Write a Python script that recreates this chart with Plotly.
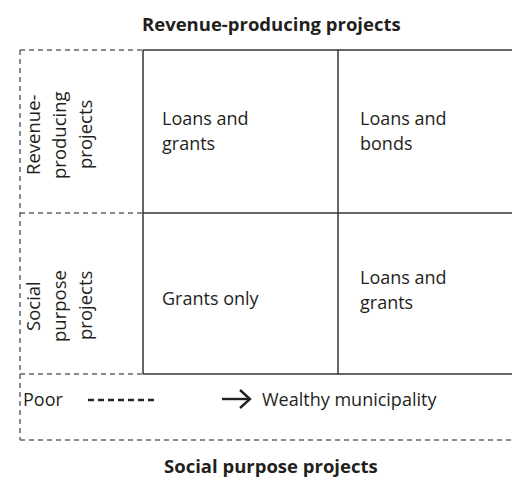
import plotly.graph_objects as go

# ---- structure of the diagram (pixel-like data units) ----
col_edges = [20, 143, 338, 512]      # left dashed edge, solid grid lines, right edge
row_edges = [50, 213, 374, 440]      # top, middle, bottom of grid, bottom dashed edge

title_top = "Revenue-producing projects"
title_bottom = "Social purpose projects"

row_label_lines = [["Revenue-", "producing", "projects"],
                   ["Social", "purpose", "projects"]]
row_label_cy = [135, 306]
row_label_cx = [32, 58, 84]

cell_lines = [["Loans and", "grants"], ["Loans and", "bonds"],
              ["Grants only"], ["Loans and", "grants"]]
cell_x = [161, 359, 161, 359]
cell_y = [118, 118, 298, 277]
line_gap = 25

poor_label = "Poor"
wealthy_label = "Wealthy municipality"
axis_y = 399
poor_x = 22
dash_x = [88, 157]
arrow_x = [222, 250]
wealthy_x = 261

FONT = "Open Sans"
TXT = "#231f20"
SOLID = "#333333"
DASH = "#666666"
BODY = 18
SIDE = 18.5
HEAD = 18.5

fig = go.Figure()

def seg(x, y, color, dash=None, width=1.5):
    fig.add_trace(go.Scatter(x=x, y=y, mode="lines", hoverinfo="skip",
                             line=dict(color=color, width=width, dash=dash),
                             showlegend=False))

L, C1, C2, R = col_edges
T, M, B, BB = row_edges
# dashed outline on the left and bottom
for yy in (T, M, B):
    seg([L, C1], [yy, yy], DASH, "5px,4px")
seg([L, L], [T, BB], DASH, "5px,4px")
seg([L, R], [BB, BB], DASH, "5px,4px")
# solid grid
for yy in (T, M, B):
    seg([C1, R], [yy, yy], SOLID)
for xx in (C1, C2):
    seg([xx, xx], [T, B], SOLID)

# poor -> wealthy scale
seg(dash_x, [axis_y + 1, axis_y + 1], "#222222", "6px,4px", 2.5)
seg(arrow_x, [axis_y, axis_y], "#222222", None, 2.4)
seg([arrow_x[1] - 10, arrow_x[1], arrow_x[1] - 10],
    [axis_y - 9, axis_y, axis_y + 9], "#222222", None, 2.4)

ann = []
ann.append(dict(x=271, y=23, text="<b>" + title_top + "</b>", xanchor="center",
                yanchor="middle", font=dict(size=HEAD, family=FONT, color=TXT)))
ann.append(dict(x=271, y=465, text="<b>" + title_bottom + "</b>", xanchor="center",
                yanchor="middle", font=dict(size=HEAD, family=FONT, color=TXT)))
for lines, cy in zip(row_label_lines, row_label_cy):
    for line, cx in zip(lines, row_label_cx):
        ann.append(dict(x=cx, y=cy, text=line, textangle=-90, xanchor="center",
                        yanchor="middle", font=dict(size=SIDE, family=FONT, color=TXT)))
for lines, x0, y0 in zip(cell_lines, cell_x, cell_y):
    for i, line in enumerate(lines):
        ann.append(dict(x=x0, y=y0 + i * line_gap, text=line, xanchor="left",
                        yanchor="middle", font=dict(size=BODY, family=FONT, color=TXT)))
ann.append(dict(x=poor_x, y=axis_y, text=poor_label, xanchor="left", yanchor="middle",
                font=dict(size=BODY, family=FONT, color=TXT)))
ann.append(dict(x=wealthy_x, y=axis_y, text=wealthy_label, xanchor="left", yanchor="middle",
                font=dict(size=BODY, family=FONT, color=TXT)))
for a in ann:
    a.update(showarrow=False, xref="x", yref="y", borderpad=0)

fig.update_layout(
    width=512, height=477, margin=dict(l=0, r=0, t=0, b=0),
    paper_bgcolor="white", plot_bgcolor="white",
    xaxis=dict(range=[0, 512], visible=False, fixedrange=True),
    yaxis=dict(range=[477, 0], visible=False, fixedrange=True),
    annotations=ann,
)
fig.write_html("out.html", config={"displayModeBar": False},
               post_script="document.body.style.margin='0';"
                           "document.body.style.overflow='hidden';")
